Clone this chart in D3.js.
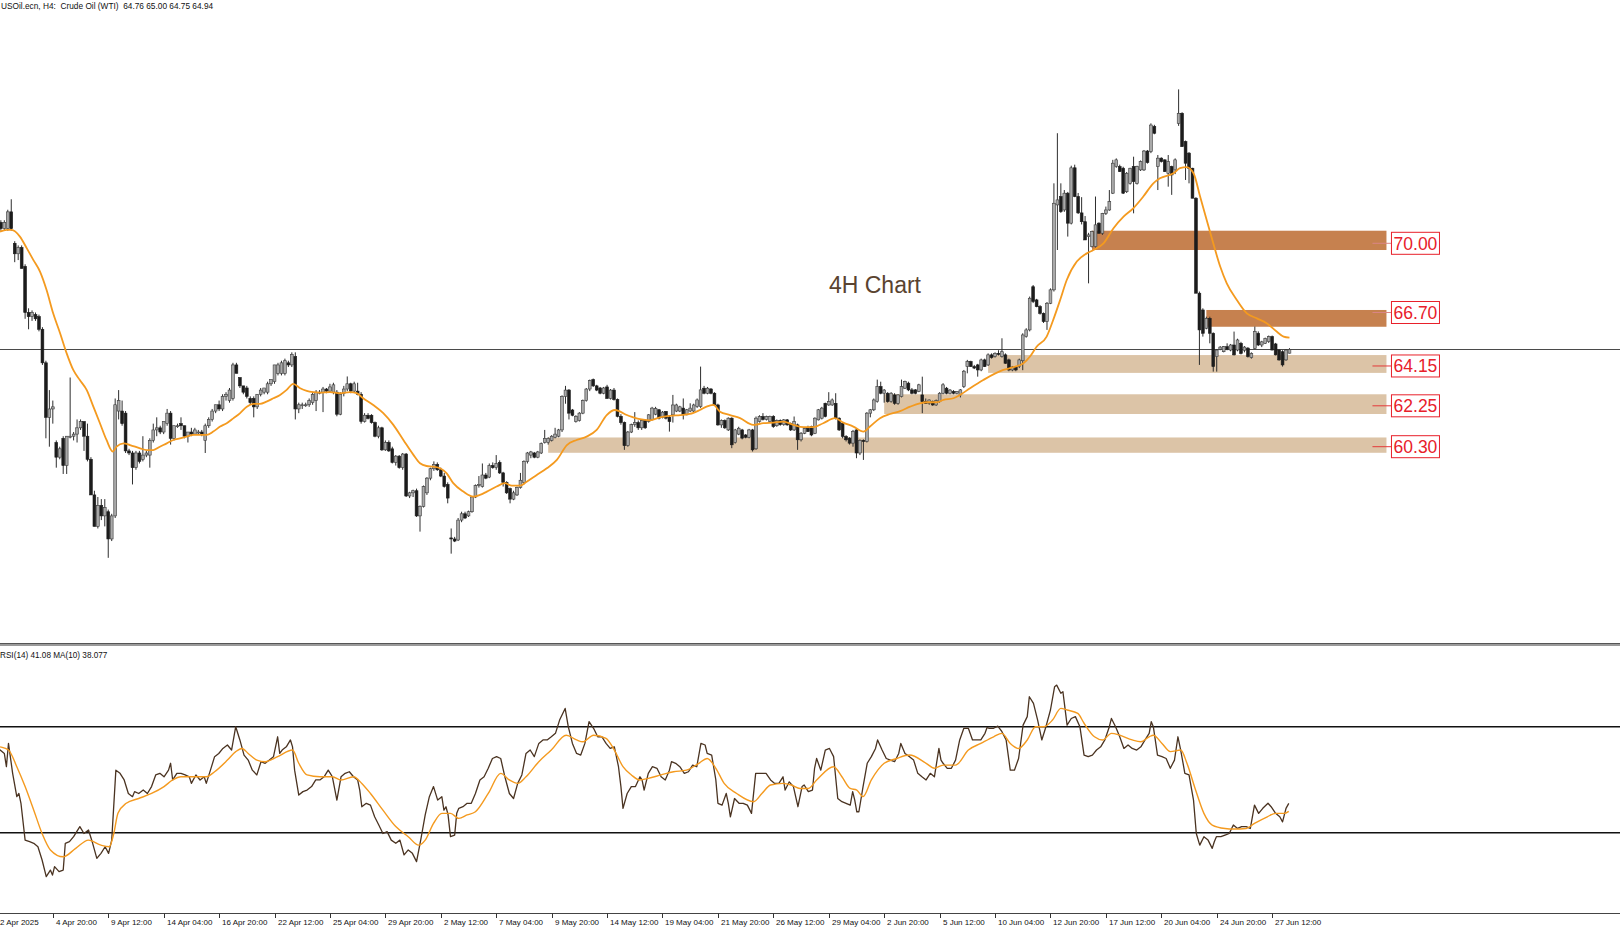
<!DOCTYPE html>
<html><head><meta charset="utf-8">
<script src="https://cdn.jsdelivr.net/npm/d3@7"></script>
<style>html,body{margin:0;padding:0;background:#fff;overflow:hidden} text{white-space:pre}</style>
</head><body>
<svg id="c" width="1620" height="931"></svg>
<script>
// ---------- DATA ----------
// 4H candles [open, high, low, close], bar index 0 = 2 Apr 2025 04:00
const ohlc = [
[70.6,71.1,70.5,71.0],[71.0,71.1,70.6,70.7],[70.7,71.1,70.6,71.0],[70.7,71.6,70.6,71.5],[71.5,72.1,70.6,70.7],
[70.0,70.1,69.1,69.5],[69.5,69.9,69.2,69.8],[69.8,69.9,68.8,68.8],[68.9,69.0,66.4,66.7],[66.7,66.9,65.9,66.5],
[66.5,66.8,66.3,66.7],[66.6,66.7,66.3,66.4],[66.5,66.6,65.8,65.9],[65.9,66.0,64.2,64.3],[64.3,64.4,60.7,61.7],
[61.7,63.0,60.3,62.1],[62.1,62.5,61.4,62.2],[60.5,60.6,59.3,59.8],[59.8,60.3,59.7,60.2],[60.7,60.8,59.0,59.4],
[59.4,60.8,59.0,60.8],[60.8,63.6,60.7,60.8],[60.8,61.0,60.6,60.9],[60.9,61.6,60.5,61.2],[61.2,61.6,61.1,61.5],
[61.5,61.5,60.1,60.8],[60.8,61.4,59.6,59.7],[59.7,59.8,58.0,58.0],[58.0,58.2,56.5,56.5],[56.5,57.9,56.4,57.5],
[57.5,57.8,56.8,57.0],[57.0,57.8,56.5,57.4],[57.2,57.3,55.0,55.9],[55.9,57.1,55.8,57.0],[57.0,62.6,56.9,62.3],
[62.0,63.0,61.6,62.5],[62.0,62.5,61.3,61.4],[61.9,62.0,60.0,60.1],[60.1,60.2,59.9,60.0],[60.0,60.1,58.5,59.3],
[59.3,60.1,59.2,60.0],[60.0,60.1,59.5,59.6],[59.7,60.8,59.6,59.9],[59.9,60.1,59.8,60.0],[59.9,60.7,59.3,60.6],
[60.6,61.4,60.5,61.1],[61.1,61.7,60.8,61.2],[61.2,61.3,60.9,61.0],[61.0,61.5,60.9,61.5],[61.4,62.1,61.3,61.9],
[61.9,62.0,60.4,60.7],[60.7,61.3,60.6,61.3],[61.3,61.4,61.2,61.3],[61.4,61.7,61.1,61.3],[61.3,61.3,60.7,60.8],
[60.8,61.0,60.5,61.0],[61.0,61.2,60.8,60.9],[60.9,61.2,60.9,61.1],[61.0,61.1,60.9,61.0],[61.0,61.1,60.8,60.9],
[60.6,61.4,60.0,61.3],[61.3,61.7,61.2,61.6],[61.6,62.1,61.5,62.0],[62.0,62.3,61.9,62.3],[62.3,62.5,62.0,62.1],
[62.1,62.8,62.0,62.7],[62.7,62.9,62.5,62.8],[62.5,63.1,62.4,63.0],[62.6,64.3,62.5,64.2],[64.2,64.3,63.8,63.8],
[63.6,63.6,63.1,63.2],[63.2,63.2,62.8,62.9],[63.1,63.2,62.6,62.7],[62.6,62.7,62.3,62.4],[62.6,62.7,61.7,62.2],
[62.2,62.8,62.1,62.8],[62.8,63.1,62.7,63.0],[62.9,63.1,62.8,63.1],[62.9,63.4,62.8,63.3],[63.3,63.5,63.2,63.5],
[63.4,64.2,63.3,64.2],[63.8,64.3,63.7,64.2],[63.8,64.4,63.7,64.3],[63.8,64.5,63.7,64.4],[64.3,64.4,64.1,64.2],
[64.2,64.8,64.1,64.7],[64.6,64.8,61.6,62.1],[62.1,62.4,61.9,62.3],[62.3,62.4,62.1,62.3],[62.3,62.4,62.2,62.3],
[62.3,62.6,62.2,62.5],[62.4,62.9,62.3,62.8],[62.5,63.0,62.0,62.9],[62.9,63.0,62.8,62.9],[62.9,63.15,61.95,63.05],
[63.05,63.1,62.85,62.95],
[62.95,63.3,62.9,63.15],[62.9,63.35,62.8,63.25],[62.9,63.0,61.75,61.85],[61.85,62.9,61.8,62.8],[62.85,63.2,62.7,63.05],
[63.05,63.65,62.95,63.3],[63.3,63.35,62.85,62.95],[62.95,63.4,62.9,63.3],[62.95,63.35,62.75,62.8],[62.8,62.9,61.4,61.5],
[61.5,61.9,61.45,61.8],[61.8,61.9,61.6,61.65],[61.8,61.85,61.4,61.45],[61.45,61.5,60.75,60.8],[60.8,61.3,60.7,61.2],
[61.2,61.25,60.1,60.15],[60.15,60.6,60.1,60.5],[60.5,60.6,60.05,60.1],[60.2,60.3,59.5,59.55],[59.55,59.9,59.4,59.85],
[59.85,59.9,59.25,59.3],[59.3,60.0,59.2,59.95],[59.95,60.0,57.9,57.95],[57.95,58.15,57.85,58.1],[58.1,58.25,57.9,58.2],
[58.2,58.3,56.95,57.0],[57.0,57.5,56.25,57.45],[57.45,58.45,57.4,58.4],[58.1,58.85,58.0,58.8],[58.8,59.3,58.7,59.25],
[59.25,59.6,59.15,59.45],[59.45,59.55,59.15,59.2],[59.2,59.3,58.85,58.9],[58.9,59.05,58.35,58.4],[58.5,58.6,57.6,57.85],
[55.95,56.4,55.2,55.9],[55.9,56.0,55.75,55.8],[55.85,56.9,55.8,56.8],[56.8,57.2,56.7,57.1],[57.1,57.2,56.85,56.9],
[57.0,57.25,56.95,57.2],[57.2,57.95,57.15,57.9],[57.9,58.5,57.85,58.45],[58.45,58.9,58.35,58.5],[58.4,59.5,58.35,58.95],
[58.95,59.05,58.75,58.8],[58.85,59.5,58.8,59.4],[59.4,59.55,59.25,59.3],[59.3,59.9,59.2,59.5],[59.55,59.65,59.0,59.05],
[59.05,59.1,58.4,58.6],[58.6,58.65,58.05,58.1],[58.3,58.35,57.6,57.8],[57.8,58.2,57.75,58.1],[58.0,58.4,57.95,58.35],
[58.35,59.05,58.3,58.7],[58.6,59.65,58.5,59.6],[59.6,60.05,59.5,60.0],[59.9,60.1,59.75,60.05],[60.0,60.05,59.75,59.8],
[59.8,60.1,59.75,60.05],[60.0,60.5,59.95,60.45],[60.5,61.1,60.45,60.7],[60.5,60.75,60.4,60.7],[60.6,60.85,60.55,60.8],
[60.75,61.2,60.7,60.9],[60.8,61.15,60.75,61.1],[61.1,62.75,61.0,62.7],[62.7,63.2,62.35,63.0],[63.0,63.05,61.6,61.9],
[62.05,62.1,61.75,61.8],[61.5,61.8,61.45,61.75],[61.55,61.95,61.5,61.9],[61.9,62.55,61.85,62.5],[62.5,63.1,62.45,63.05],
[63.05,63.5,62.95,63.45],[63.5,63.55,63.15,63.2],[63.2,63.25,62.95,63.0],[63.1,63.15,62.8,62.85],[62.85,63.15,62.8,63.1],
[63.15,63.25,62.6,62.6],[62.6,63.05,62.55,63.0],[63.0,63.1,62.5,62.55],[62.55,62.6,61.7,61.75],[61.75,61.85,61.35,61.45],
[61.45,61.5,60.15,60.35],[60.35,61.05,60.3,61.0],[61.0,61.4,60.95,61.35],[61.35,61.95,61.25,61.45],[61.45,61.55,61.1,61.2],
[61.2,61.6,61.1,61.55],[61.55,61.6,61.15,61.2],
[61.5,61.85,61.45,61.82],[61.6,62.2,61.55,62.14],[61.85,62.2,61.8,62.12],[62.06,62.1,61.6,61.66],[61.7,62.0,61.65,61.95],
[61.98,62.0,61.6,61.66],[61.7,61.78,61.02,61.5],[61.82,62.77,61.45,62.29],[62.0,62.35,61.95,62.29],[62.0,62.25,61.95,62.2],
[62.14,62.6,61.6,61.82],[61.82,62.1,61.8,62.06],[62.0,62.37,61.95,62.14],[62.0,62.35,61.95,62.29],[62.21,62.6,62.15,62.53],
[62.21,64.12,62.15,63.01],[63.09,63.2,62.8,62.85],[62.85,63.15,62.8,63.09],[63.05,63.1,62.8,62.85],[62.85,62.9,62.25,62.29],
[62.29,62.35,61.3,61.34],[61.34,61.6,61.2,61.55],[61.55,61.6,61.15,61.2],[61.1,61.7,61.05,61.66],[61.66,61.7,60.23,60.39],
[60.5,61.15,60.45,61.1],[60.9,61.25,60.85,61.18],[61.1,61.15,60.65,60.71],[60.86,60.9,60.7,60.75],[60.75,61.15,60.7,61.1],
[61.1,61.15,60.07,60.15],[60.2,61.74,60.15,61.66],[61.5,61.8,61.45,61.74],[61.74,61.9,61.55,61.6],[61.6,61.78,61.55,61.74],
[61.5,61.78,61.45,61.74],[61.74,61.8,61.2,61.26],[61.3,61.6,61.25,61.55],[61.55,61.6,61.3,61.35],[61.35,61.62,61.3,61.58],
[61.58,61.62,61.3,61.34],[61.4,61.45,61.05,61.1],[61.1,61.74,61.05,61.5],[61.34,61.4,60.15,60.63],[60.63,61.0,60.55,60.94],
[60.94,61.2,60.9,61.18],[61.18,61.3,61.0,61.02],[61.26,61.3,60.8,60.86],[60.94,61.7,60.9,61.66],[61.58,62.1,61.55,62.06],
[61.66,62.2,61.6,62.14],[62.37,62.4,61.7,61.74],[62.29,62.9,62.25,62.45],[62.29,62.6,62.25,62.53],[62.37,62.85,61.6,61.66],
[61.66,61.7,61.05,61.1],[61.42,61.45,60.7,60.79],[60.79,60.85,60.55,60.63],[60.71,60.75,60.4,60.47],[60.47,61.1,60.3,61.02],
[61.1,61.15,59.75,60.0],[60.0,60.65,59.9,60.6],[60.6,60.65,59.67,60.55],[60.55,61.95,60.5,61.9],[61.9,62.1,61.7,62.06],
[62.06,62.6,62.0,62.53],[62.45,63.5,62.4,63.17],[63.17,63.4,62.8,62.85],[62.85,63.05,62.4,63.0],[62.85,62.9,62.4,62.45],
[62.45,62.9,62.4,62.85],[62.77,62.85,62.3,62.37],[62.37,62.8,62.3,62.77],[62.69,63.5,62.65,63.17],[63.09,63.45,63.05,63.41],
[63.33,63.4,62.95,63.01],[63.01,63.1,62.8,62.85],[63.01,63.05,62.8,62.85],[62.93,63.3,62.9,63.25],[62.77,63.64,61.9,62.45],
[62.45,62.6,62.35,62.37],[62.37,62.55,62.3,62.53],[62.45,62.5,62.25,62.29],[62.29,62.55,62.25,62.5],[62.45,62.9,62.4,62.85],
[62.85,63.33,62.8,63.25],[63.09,63.15,62.8,62.85],[62.85,63.05,62.8,63.0],[62.93,63.0,62.8,62.85],[62.85,62.95,62.8,62.93],
[62.77,63.05,62.65,63.01],[63.17,63.96,63.1,63.9],
[64.12,64.44,63.8,64.36],[64.36,64.4,64.1,64.12],[64.12,64.2,64.0,64.05],[64.2,64.25,63.64,63.96],[63.96,64.5,63.9,64.44],
[64.44,64.5,64.1,64.12],[64.2,64.75,64.15,64.68],[64.68,64.75,64.5,64.55],[64.6,64.8,64.55,64.75],[64.75,64.9,64.65,64.7],
[64.6,65.47,64.55,64.83],[64.68,64.75,64.25,64.28],[64.44,64.5,63.9,63.96],[63.96,64.15,63.9,64.1],[64.1,64.15,63.9,63.96],
[64.12,64.5,64.05,64.44],[64.4,65.71,63.95,65.63],[65.55,65.95,65.5,65.87],[65.87,67.46,65.8,67.38],[67.93,68.01,67.15,67.22],
[67.3,67.35,66.95,66.98],[66.98,67.05,66.6,66.66],[66.66,66.7,66.2,66.27],[66.27,67.2,65.87,67.14],[67.14,67.85,67.1,67.78],
[67.78,72.86,67.7,71.91],[71.83,75.25,69.68,72.07],[72.23,72.86,71.45,71.51],[71.59,72.54,71.5,72.39],[72.39,72.45,70.32,70.96],
[70.96,73.7,70.9,73.6],[73.6,73.75,72.2,72.23],[72.23,72.4,71.4,71.45],[71.45,72.2,70.9,71.03],[71.03,71.3,70.16,70.16],
[70.32,70.5,68.09,70.4],[69.84,70.6,69.8,70.56],[69.84,72.23,69.8,70.88],[70.96,71.0,70.45,70.48],[70.48,71.45,70.4,71.43],
[71.43,71.75,71.35,71.59],[71.59,72.54,71.55,71.99],[72.39,73.98,72.35,73.82],[73.66,74.05,73.6,73.98],[73.66,73.75,73.4,73.42],
[73.58,73.65,72.35,72.39],[72.46,73.4,72.4,73.34],[72.86,73.6,72.8,73.58],[73.66,74.13,71.43,72.94],[72.86,73.7,72.8,73.66],
[73.5,73.95,73.45,73.9],[73.5,74.45,73.45,74.4],[74.4,74.45,73.8,73.85],[74.37,75.72,74.3,75.64],[75.57,75.65,75.2,75.25],
[73.66,74.21,72.54,74.06],[74.06,74.1,73.85,73.9],[73.98,74.0,73.4,73.42],[73.34,74.21,72.7,73.9],[73.66,73.7,72.31,73.26],
[73.5,74.05,73.3,73.98],[75.72,77.34,75.6,76.2],[76.2,76.25,74.6,74.61],[74.85,74.9,73.02,73.82],[74.3,74.35,72.86,73.58],
[73.58,73.6,72.15,72.15],[72.15,72.2,67.62,67.62],[67.62,67.7,64.2,65.87],[66.82,66.9,65.55,65.71],[65.95,66.5,65.9,66.42],
[66.42,66.5,65.23,65.71],[65.71,65.75,63.88,64.12],[64.6,64.95,63.88,64.91],[64.95,65.1,64.9,65.05],[64.83,65.1,64.8,65.07],
[65.07,65.23,64.9,64.95],[64.91,65.2,64.85,65.15],[65.15,65.79,64.65,64.68],[64.91,65.45,64.85,65.39],[65.23,65.3,64.7,64.75],
[64.9,65.1,64.8,65.05],[65.0,65.05,64.55,64.6],[64.55,64.8,64.5,64.75],[64.99,66.03,64.95,65.79],[65.71,65.8,65.1,65.15],
[65.15,65.35,65.05,65.3],[65.23,65.5,65.2,65.47],[65.31,65.6,65.25,65.55],[65.55,65.6,64.9,64.91],[65.2,65.25,64.65,64.68],
[64.91,64.95,64.4,64.44],[64.83,64.9,64.12,64.2],[64.44,64.95,64.4,64.91],[64.76,65.0,64.75,64.94]
];

const timeLabels = ["2 Apr 2025","4 Apr 20:00","9 Apr 12:00","14 Apr 04:00","16 Apr 20:00","22 Apr 12:00",
"25 Apr 04:00","29 Apr 20:00","2 May 12:00","7 May 04:00","9 May 20:00","14 May 12:00","19 May 04:00",
"21 May 20:00","26 May 12:00","29 May 04:00","2 Jun 20:00","5 Jun 12:00","10 Jun 04:00","12 Jun 20:00",
"17 Jun 12:00","20 Jun 04:00","24 Jun 20:00","27 Jun 12:00"];
const barsPerLabel = 16;

// Moving average on price: [bar, price]
const maPoints = [[0.75,70.56],[2.7,70.64],[4.1,70.64],[6.5,70.32],[8.5,69.76],[10.4,69.2],[12.3,68.65],[14.2,67.77],
[16.1,66.66],[18.1,65.71],[20.0,64.75],[21.9,63.96],[23.8,63.48],[25.8,63.0],[27.7,62.21],[29.6,61.42],[31.5,60.62],
[33.3,60.07],[34.4,60.3],[36.4,60.46],[38.3,60.38],[41.2,60.22],[43.1,60.14],[45.0,60.14],[46.9,60.3],[48.9,60.46],
[50.8,60.62],[52.7,60.7],[54.6,60.78],[56.6,60.86],[60.4,60.86],[62.3,61.02],[64.3,61.26],[66.2,61.42],[68.1,61.65],
[70.0,61.89],[72.0,62.21],[73.9,62.34],[75.8,62.34],[77.7,62.45],[79.7,62.61],[81.6,62.77],[83.5,63.01],[85.4,63.3],
[87.4,63.09],[89.3,62.96],[91.2,62.9],[93.1,62.88],[96.0,62.9],[98.9,62.85],[101.8,62.9],[103.7,62.85],[105.6,62.61],
[108.5,62.29],[111.4,61.9],[114.3,61.34],[117.2,60.62],[120.1,59.91],[122.0,59.51],[123.9,59.38],[125.9,59.35],
[127.8,59.27],[129.7,59.03],[131.6,58.56],[134.5,58.16],[137.4,57.92],[139.3,58.0],[141.3,58.16],[144.1,58.4],
[146.5,58.56],[148.5,58.44],[150.9,58.44],[152.8,58.63],[155.7,58.95],[158.6,59.27],[161.5,59.67],[164.4,60.38],
[167.2,60.62],[170.1,60.78],[173.0,61.1],[175.9,61.81],[178.3,62.05],[179.8,61.97],[181.7,61.81],[183.6,61.7],
[185.5,61.61],[188.4,61.56],[191.3,61.7],[194.2,61.77],[197.1,61.81],[199.9,61.86],[202.8,62.05],[204.7,62.21],
[206.7,62.29],[208.6,61.97],[211.5,61.81],[214.4,61.66],[218.2,61.34],[221.1,61.42],[224.0,61.45],[226.9,61.5],
[229.8,61.34],[232.7,61.23],[235.5,61.23],[238.4,61.42],[241.8,61.66],[244.2,61.45],[247.1,61.26],[250.0,61.02],
[251.9,61.26],[254.8,61.66],[257.7,61.86],[260.6,62.0],[263.5,62.21],[266.3,62.37],[268.3,62.42],[271.2,62.42],
[273.1,62.53],[276.0,62.61],[277.9,62.77],[280.8,63.09],[284.6,63.48],[290.4,63.96],[293.3,64.09],[296.2,64.28],
[298.1,64.6],[300.0,65.07],[302.9,65.55],[304.8,66.35],[306.8,67.3],[308.7,68.25],[311.6,69.13],[314.5,69.52],
[316.4,69.68],[319.3,70.0],[322.2,70.72],[325.1,71.27],[327.9,71.67],[330.8,72.23],[333.7,72.86],[335.6,73.1],
[339.5,73.34],[341.4,73.58],[343.3,73.63],[345.3,73.34],[347.2,72.23],[349.1,71.11],[351.0,70.0],[353.0,68.89],
[354.9,68.09],[357.8,67.3],[360.7,66.66],[363.6,66.42],[366.4,66.19],[369.3,65.79],[371.3,65.55],[373,65.5]];

// RSI(14): [bar, value]
const rsiPoints = [[0,60.5],[0.8,61.2],[2.0,59.9],[2.6,54.9],[3.2,63.7],[4.4,52.4],[5.6,43.6],[6.2,44.8],[6.8,41.1],[8.0,27.2],
[9.3,26.6],[10.5,26.0],[11.7,24.7],[12.9,19.7],[14.1,13.4],[15.3,15.9],[15.9,14.0],[16.5,17.2],[17.8,15.3],[19.0,15.9],
[19.6,26.0],[20.8,26.6],[22.0,28.5],[23.8,32.3],[25.0,29.7],[26.3,31.0],[27.5,26.0],[28.7,20.3],[29.9,22.2],[31.1,24.7],
[32.1,22.2],[33.0,27.2],[34.2,53.6],[35.4,52.4],[36.6,49.9],[37.8,44.8],[39.0,43.6],[39.6,45.5],[40.8,44.8],[42.1,46.1],
[43.3,44.8],[44.5,47.4],[45.7,51.8],[46.9,52.4],[48.1,51.1],[49.4,53.6],[50.0,56.2],[50.6,49.9],[51.8,52.4],[53.0,52.4],
[54.2,51.8],[55.4,51.1],[56.0,48.6],[57.3,51.8],[58.5,49.9],[59.7,51.1],[60.3,48.6],[61.5,53.6],[62.7,58.7],[63.9,59.9],
[65.1,61.8],[66.4,63.1],[67.6,61.2],[68.8,70.0],[70.0,65.0],[71.2,59.3],[72.4,57.4],[73.6,53.6],[74.9,51.8],[76.1,56.8],
[77.3,56.2],[78.5,57.4],[79.7,58.7],[80.9,66.2],[81.5,59.9],[82.2,61.2],[83.4,62.4],[84.6,65.0],[85.2,62.4],[85.8,53.6],
[87.0,44.2],[88.2,45.5],[89.4,46.1],[90.7,47.4],[91.9,49.9],[93.1,49.9],[94.3,51.1],[95.5,53.6],[96.1,52.4],[96.7,51.1],
[98.0,42.3],[99.2,51.1],[100.4,52.4],[101.6,53.0],[102.8,51.1],[104.0,49.9],[104.6,46.1],[105.2,39.8],[106.5,41.1],
[107.7,40.4],[108.9,36.0],[110.1,32.9],[111.3,29.7],[112.5,30.4],[113.7,27.2],[115.0,26.0],[116.2,27.2],[117.4,21.6],
[118.6,23.5],[119.8,22.2],[121.0,19.1],[122.2,27.2],[123.5,36.7],[124.7,43.6],[125.9,47.4],[127.1,42.3],[128.3,43.6],
[128.9,38.5],[129.5,39.8],[130.1,36.7],[130.8,28.5],[132.0,29.1],[132.6,37.3],[133.2,39.2],[134.4,39.8],[135.6,41.1],
[136.8,41.1],[138.0,44.8],[139.3,49.9],[140.5,51.1],[141.7,54.3],[142.9,58.0],[144.1,58.7],[145.3,58.0],[146.5,51.1],
[147.8,44.8],[149.0,42.9],[150.2,48.6],[151.4,51.8],[152.6,59.9],[153.8,61.2],[155.0,58.7],[156.3,63.7],[157.5,65.0],
[158.7,65.0],[159.9,66.2],[161.1,67.5],[162.3,72.5],[163.9,76.9],[164.8,70.0],[166.0,63.7],[167.2,59.9],[168.4,59.3],
[169.6,63.7],[170.8,71.9],[172.1,69.4],[173.3,66.2],[174.5,66.2],[175.7,63.7],[176.9,61.8],[178.1,62.4],[179.3,54.9],
[180.0,47.4],[180.6,39.2],[181.8,44.8],[183.0,47.4],[184.2,47.4],[185.5,51.1],[186.1,49.9],[186.7,46.1],[187.9,52.4],
[189.1,54.9],[190.4,54.3],[191.6,51.1],[192.8,49.9],[194.0,53.6],[194.6,56.8],[195.8,56.2],[197.0,54.9],[198.3,52.4],
[199.5,53.0],[200.7,55.5],[201.9,54.9],[203.1,63.7],[204.3,63.1],[204.9,59.9],[206.2,59.3],[207.4,49.9],[208.0,41.1],
[209.2,40.4],[210.4,44.8],[211.0,41.1],[211.6,36.0],[212.8,42.9],[214.1,41.1],[215.3,41.1],[216.5,40.4],[217.7,37.3],
[218.9,52.4],[220.1,52.4],[221.9,52.4],[223.2,49.9],[224.4,48.6],[225.6,48.6],[226.8,51.1],[227.4,46.1],[228.6,49.2],
[229.8,47.4],[231.1,39.8],[232.3,47.4],[232.9,48.0],[234.1,45.5],[235.3,46.1],[235.9,54.3],[236.5,58.0],[237.7,53.6],
[239.0,61.2],[240.2,61.8],[241.4,58.7],[242.6,42.9],[243.8,41.7],[245.0,41.1],[246.2,40.4],[246.9,45.5],[247.5,42.3],
[248.1,37.9],[248.7,37.9],[249.9,47.4],[251.1,56.2],[252.3,58.7],[253.5,61.8],[254.1,65.0],[255.4,61.2],[256.6,58.0],
[257.8,57.4],[259.0,56.8],[260.2,59.9],[260.8,63.7],[262.0,59.9],[263.3,58.7],[264.5,57.4],[265.7,52.4],[266.9,51.1],
[268.1,49.9],[269.3,52.4],[270.5,51.1],[271.8,61.8],[272.4,57.4],[273.0,56.2],[274.2,54.3],[275.4,54.3],[276.6,57.4],
[277.8,65.0],[279.0,69.4],[280.3,69.4],[281.5,65.0],[282.7,65.0],[283.9,65.0],[285.1,67.5],[285.7,69.7],[286.3,69.4],
[287.6,69.4],[288.8,70.2],[290.0,68.1],[291.2,65.0],[292.4,53.6],[293.6,53.6],[294.8,58.0],[296.1,70.6],[297.3,73.8],
[297.9,81.3],[299.1,78.8],[300.3,72.5],[301.5,65.0],[302.7,70.0],[304.0,76.3],[305.2,85.1],[305.8,85.7],[307.0,82.6],
[307.6,83.2],[308.2,76.9],[308.8,70.6],[310.0,73.1],[311.2,73.8],[312.5,70.0],[313.7,59.3],[314.9,58.7],[316.1,59.3],
[317.3,61.2],[318.5,62.4],[319.7,65.0],[321.0,70.0],[321.6,73.1],[322.8,70.0],[324.0,66.2],[325.2,61.8],[326.4,63.1],
[327.6,61.8],[328.9,61.2],[330.1,62.4],[331.3,65.0],[332.5,67.5],[333.1,71.9],[333.7,70.0],[334.9,59.3],[336.2,58.7],
[337.4,58.0],[338.6,54.3],[339.8,57.4],[340.8,66.2],[341.6,61.2],[342.8,52.4],[344.0,51.8],[345.3,42.3],[346.1,29.7],
[347.1,25.3],[348.3,28.5],[349.5,27.2],[350.7,24.1],[351.3,26.6],[351.9,28.5],[353.2,28.5],[354.4,29.1],[355.6,29.7],
[356.8,32.9],[358.0,31.6],[359.2,32.3],[360.5,32.3],[361.7,31.6],[362.9,40.4],[364.1,37.3],[365.3,39.2],[366.8,41.1],
[367.7,39.8],[369.0,37.3],[370.2,36.0],[371.0,34.1],[372.0,39.2],[372.8,41.08]];

// MA(10) of RSI: [bar, value]
const rsiMaPoints = [[0,62.6],[0.75,62.4],[3.2,61.2],[5.6,54.9],[8.0,47.4],[10.5,38.5],[12.9,29.7],[15.3,23.5],[19.0,20.9],
[22.6,24.1],[26.3,27.2],[29.9,25.3],[32.3,24.7],[33.6,29.7],[34.8,37.3],[37.2,41.1],[40.8,42.9],[44.5,44.8],[48.1,47.4],
[50.6,49.9],[53.0,51.1],[56.6,51.1],[60.3,51.1],[62.7,53.0],[66.4,57.4],[68.8,60.6],[70.6,61.8],[72.4,59.9],[74.9,57.4],
[77.3,56.8],[80.9,58.7],[85.2,61.2],[87.0,56.2],[89.4,51.8],[93.1,51.1],[96.7,51.1],[99.2,49.9],[102.8,51.1],[105.2,48.6],
[107.7,44.8],[111.3,38.5],[115.0,32.3],[118.6,28.5],[121.6,25.3],[123.5,27.2],[125.9,33.5],[128.3,37.3],[130.8,37.3],
[133.2,35.4],[135.6,36.7],[138.0,37.9],[141.7,44.8],[145.3,52.4],[147.8,49.9],[150.2,48.6],[152.6,51.1],[156.3,56.8],
[159.9,61.2],[164.2,66.8],[167.2,65.0],[169.0,64.3],[172.1,66.8],[175.7,65.6],[178.1,61.2],[180.6,54.9],[183.0,51.8],
[185.4,49.9],[187.9,50.5],[191.6,51.8],[195.2,53.0],[198.9,53.6],[202.5,56.2],[204.9,58.0],[207.4,54.3],[209.8,48.6],
[213.4,44.8],[218.3,41.7],[220.7,44.8],[223.2,48.0],[226.8,48.6],[229.2,48.0],[231.7,46.7],[234.1,46.7],[236.5,49.9],
[241.4,54.9],[243.8,51.1],[246.2,46.7],[248.1,46.1],[249.9,43.6],[252.3,49.9],[256.0,56.2],[259.6,58.0],[263.3,59.3],
[268.1,56.2],[270.5,54.3],[273.0,55.5],[276.6,55.5],[280.3,61.2],[283.9,63.7],[287.6,66.2],[290.0,67.5],[292.4,63.7],
[294.8,61.8],[297.3,65.0],[299.7,70.0],[302.1,70.0],[304.6,72.5],[307.0,76.9],[308.8,76.3],[311.9,75.0],[313.7,71.3],
[316.7,66.2],[319.1,65.0],[321.6,67.5],[324.0,66.8],[327.6,65.0],[330.1,64.3],[332.5,66.2],[333.7,66.8],[336.2,63.7],
[338.6,60.6],[341.6,61.2],[343.4,56.2],[345.9,46.1],[348.3,37.3],[350.7,32.9],[354.4,31.6],[356.8,31.4],[360.5,31.6],
[362.9,33.5],[366.6,36.0],[369.0,37.3],[371.4,37.3],[372.8,38.077]];

// Support / resistance zones
const zoneLabels = ["70.00","66.70","64.15","62.25","60.30"];
const zoneLevels = [70.00, 66.70, 64.15, 62.25, 60.30];
const zoneTop = [70.60, 66.82, 64.67, 62.80, 60.74];
const zoneBottom = [69.68, 66.02, 63.82, 61.86, 60.01];
const zoneStartBar = [316, 349, 286, 256, 159];
const zoneKind = ["res","res","sup","sup","sup"];
const zoneEndBar = 401;
const rsiLevels = [70, 30];
const headerText = "USOil.ecn, H4:  Crude Oil (WTI)  64.76 65.00 64.75 64.94";
const rsiText = "RSI(14) 41.08 MA(10) 38.077";
const chartTitle = "4H Chart";

// ---------- DRAW ----------
const W = 1620, H = 931;
const svg = d3.select("#c");
const font = "'Liberation Sans', Arial, sans-serif";
const x = d3.scaleLinear().domain([0, 373]).range([-2.6, -2.6 + 373 * 3.464]);
const y = d3.scaleLinear().domain([60.30, 70.00]).range([446.7, 243.3]);
const yR = d3.scaleLinear().domain([0, 100]).range([912.2, 647.2]);

const defs = svg.append("defs");
defs.append("clipPath").attr("id","mainClip").append("rect").attr("x",0).attr("y",0).attr("width",W).attr("height",642);
defs.append("clipPath").attr("id","rsiClip").append("rect").attr("x",0).attr("y",647).attr("width",W).attr("height",266);

const main = svg.append("g").attr("clip-path","url(#mainClip)");

// zones
zoneLevels.forEach((lv,i)=>{
  main.append("rect")
    .attr("x", x(zoneStartBar[i])).attr("width", x(zoneEndBar) - x(zoneStartBar[i]))
    .attr("y", y(zoneTop[i])).attr("height", y(zoneBottom[i]) - y(zoneTop[i]))
    .attr("fill", zoneKind[i]==="res" ? "#c6814f" : "#dcc4a7");
});

// bid line
const lastClose = ohlc[ohlc.length-1][3];
main.append("line").attr("x1",0).attr("x2",W).attr("y1",Math.round(y(lastClose))+0.5).attr("y2",Math.round(y(lastClose))+0.5)
  .attr("stroke","#4a4a4a").attr("stroke-width",1);

// candles
const cg = main.append("g");
ohlc.forEach((d,i)=>{
  const [o,h,l,c] = d;
  const cx = x(i);
  cg.append("line").attr("x1",cx).attr("x2",cx).attr("y1",y(h)).attr("y2",y(l))
    .attr("stroke","#2e2e2e").attr("stroke-width",1);
  const top = y(Math.max(o,c)), bot = y(Math.min(o,c));
  const bull = c >= o;
  cg.append("rect").attr("x",cx-1.4).attr("width",2.8)
    .attr("y",top).attr("height",Math.max(1,bot-top))
    .attr("fill", bull ? "#a9a9a9" : "#1c1c1c")
    .attr("stroke", bull ? "#3a3a3a" : "#1c1c1c").attr("stroke-width",0.6);
});

// MA on price
main.append("path").datum(maPoints)
  .attr("d", d3.line().x(d=>x(d[0])).y(d=>y(d[1])).curve(d3.curveMonotoneX))
  .attr("fill","none").attr("stroke","#f49a1f").attr("stroke-width",1.8);

// zone labels
zoneLevels.forEach((lv,i)=>{
  const ly = y(lv), xe = x(zoneEndBar);
  svg.append("line").attr("x1",xe-14).attr("x2",xe+5).attr("y1",ly).attr("y2",ly)
    .attr("stroke", zoneKind[i]==="res" ? "#d98585" : "#e43a3a").attr("stroke-width",1);
  svg.append("rect").attr("x",xe+5).attr("y",ly-11).attr("width",48).attr("height",22)
    .attr("fill","#fff").attr("stroke","#e8202a").attr("stroke-width",1);
  svg.append("text").attr("x",xe+29).attr("y",ly+6.5).attr("text-anchor","middle")
    .attr("font-family",font).attr("font-size",17.5).attr("fill","#e8202a").text(zoneLabels[i]);
});

// title
svg.append("text").attr("x",875).attr("y",293).attr("text-anchor","middle")
  .attr("font-family",font).attr("font-size",23).attr("fill","#5a4330").text(chartTitle);

// header
svg.append("text").attr("x",1).attr("y",9).attr("font-family",font).attr("font-size",8.3)
  .attr("fill","#111").text(headerText);

// panel separator
svg.append("rect").attr("x",0).attr("y",643).attr("width",W).attr("height",3).attr("fill","#9a9a9a");
svg.append("line").attr("x1",0).attr("x2",W).attr("y1",643.5).attr("y2",643.5).attr("stroke","#555");

// RSI panel
svg.append("text").attr("x",0).attr("y",658).attr("font-family",font).attr("font-size",8.2)
  .attr("fill","#111").text(rsiText);
rsiLevels.forEach(lv=>{
  svg.append("line").attr("x1",0).attr("x2",W).attr("y1",yR(lv)).attr("y2",yR(lv))
    .attr("stroke","#111").attr("stroke-width",1.5);
});
const rg = svg.append("g").attr("clip-path","url(#rsiClip)");
rg.append("path").datum(rsiPoints)
  .attr("d", d3.line().x(d=>x(d[0])).y(d=>yR(d[1])))
  .attr("fill","none").attr("stroke","#4a3321").attr("stroke-width",1.3).attr("stroke-linejoin","round");
rg.append("path").datum(rsiMaPoints)
  .attr("d", d3.line().x(d=>x(d[0])).y(d=>yR(d[1])).curve(d3.curveMonotoneX))
  .attr("fill","none").attr("stroke","#f49a1f").attr("stroke-width",1.4);

// time axis
svg.append("line").attr("x1",0).attr("x2",W).attr("y1",913.5).attr("y2",913.5).attr("stroke","#444").attr("stroke-width",1);
timeLabels.forEach((lab,k)=>{
  const tx = Math.round(x(k*barsPerLabel))+0.5;
  svg.append("line").attr("x1",tx).attr("x2",tx).attr("y1",913.5).attr("y2",918).attr("stroke","#333");
  svg.append("text").attr("x",tx+2.5).attr("y",925).attr("font-family",font).attr("font-size",8)
    .attr("fill","#111").text(lab);
});
</script>
</body></html>
